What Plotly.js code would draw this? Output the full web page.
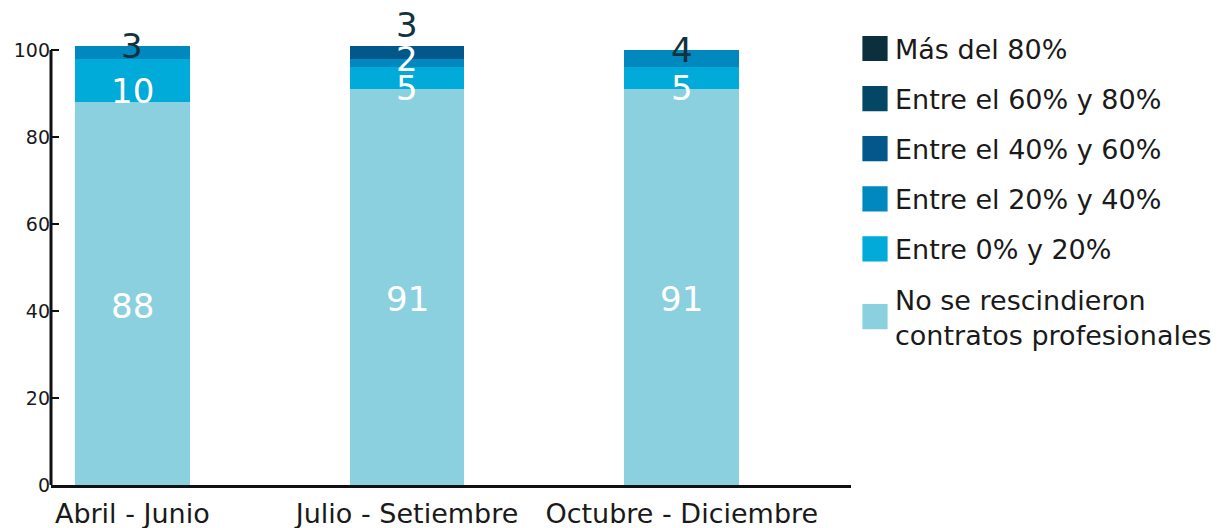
<!DOCTYPE html>
<html>
<head>
<meta charset="utf-8">
<script src="https://cdn.plot.ly/plotly-3.0.1.min.js"></script>
<style>html,body{margin:0;padding:0;background:#fff;}#chart{width:1229px;height:528px;}</style>
</head>
<body>
<div id="chart"></div>
<script>
// ---- data ----
const categories = ["Abril - Junio", "Julio - Setiembre", "Octubre - Diciembre"];
const seriesNames = [
  "No se rescindieron<br>contratos profesionales",
  "Entre 0% y 20%",
  "Entre el 20% y 40%",
  "Entre el 40% y 60%",
  "Entre el 60% y 80%",
  "Más del 80%"
];
const noRescindieron = [88, 91, 91];
const entre0y20 = [10, 5, 5];
const entre20y40 = [3, 2, 4];
const entre40y60 = [0, 3, 0];
const entre60y80 = [0, 0, 0];
const masDel80 = [0, 0, 0];
const yTicks = [0, 20, 40, 60, 80, 100];

const seriesValues = [noRescindieron, entre0y20, entre20y40, entre40y60, entre60y80, masDel80];
const colors = ["#8BD0DF", "#00AAD9", "#0088BF", "#02588A", "#034764", "#0B2F3D"];
const FONT = "DejaVu Sans, sans-serif";
const darkText = "#14323D";

const traces = seriesValues.map((vals, i) => ({
  type: "bar",
  name: seriesNames[i],
  x: categories,
  y: vals,
  width: 0.418,
  legendgroup: "g" + i,
  legendrank: 1000 - i,
  marker: {color: colors[i], line: {width: 0}},
  hoverinfo: "skip"
}));

// labels computed from the data
const annotations = [];
categories.forEach((cat, ci) => {
  let base = 0;
  let prevSmall = false;
  const topIndex = seriesValues.reduce((acc, v, i) => v[ci] > 0 ? i : acc, -1);
  seriesValues.forEach((vals, si) => {
    const v = vals[ci];
    if (v <= 0) return;
    const top = base + v;
    if (v >= 5) {
      annotations.push({x: cat, y: base + v / 2, text: String(v), showarrow: false,
        yshift: v > 50 ? -12 : -10, font: {family: FONT, size: 34, color: "#ffffff"}});
    } else {
      annotations.push({x: cat, y: top, text: String(v), showarrow: false,
        yshift: prevSmall ? 21 : 0,
        font: {family: FONT, size: 34, color: si === topIndex ? darkText : "#ffffff"}});
      prevSmall = true;
    }
    base = top;
  });
});

const layout = {
  width: 1229, height: 528,
  margin: {l: 51, r: 375, t: 37, b: 43, pad: 0},
  paper_bgcolor: "#ffffff", plot_bgcolor: "#ffffff",
  barmode: "stack",
  bargap: 0,
  font: {family: FONT, color: "#1a1a1a"},
  showlegend: true,
  legend: {
    x: 1.005, xanchor: "left", y: 1.028, yanchor: "top",
    traceorder: "grouped", tracegroupgap: 12,
    maxheight: 1,
    font: {family: FONT, size: 27, color: "#1a1a1a"},
    itemclick: false, itemdoubleclick: false
  },
  xaxis: {
    type: "category",
    range: [-0.296, 2.616],
    showline: true, linecolor: "#111", linewidth: 3,
    ticks: "", showgrid: false, zeroline: false,
    tickfont: {family: FONT, size: 27, color: "#1a1a1a"},
    ticklabelstandoff: 3
  },
  yaxis: {
    range: [0, 103],
    tickvals: yTicks,
    ticktext: yTicks.map(String),
    ticks: "inside", ticklen: 8, tickwidth: 2.5, tickcolor: "#111",
    showline: false, showgrid: false, zeroline: false,
    tickfont: {family: FONT, size: 19, color: "#1a1a1a"}
  },
  shapes: [{
    type: "line", xref: "paper", yref: "y", x0: 0, x1: 0,
    y0: yTicks[0], y1: yTicks[yTicks.length - 1],
    line: {color: "#111", width: 3}, layer: "above"
  }],
  annotations: annotations
};

Plotly.newPlot("chart", traces, layout, {staticPlot: true, displayModeBar: false}).then(() => {
  document.querySelectorAll(".legend .legendpoints path").forEach(p => {
    const t = p.getAttribute("transform") || "";
    p.setAttribute("transform", t + " scale(2.1)");
  });
});
</script>
</body>
</html>
